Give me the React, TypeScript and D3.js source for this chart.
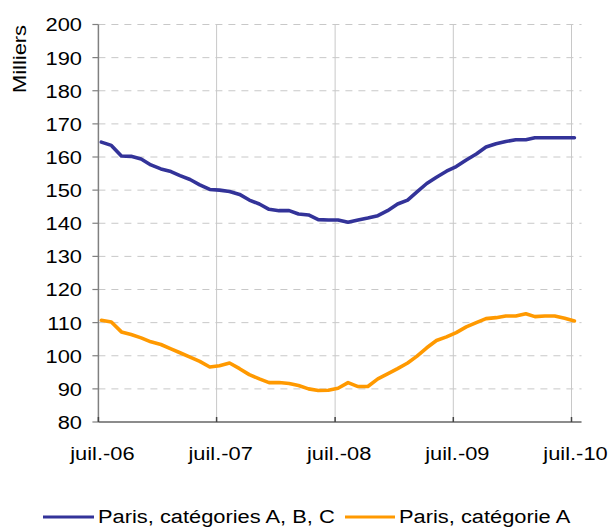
import React from "react";
import * as d3 from "d3";

const startYear = 2006;
const startMonth = 6; // July
const seriesABC = [164.5,163.5,160.3,160.2,159.4,157.6,156.4,155.6,154.4,153.2,151.6,150.2,150,149.6,148.7,147,145.8,144.2,143.8,143.8,142.8,142.5,141.1,141,141,140.3,141,141.6,142.3,143.8,145.8,147,149.4,152,153.9,155.7,157.1,159.1,160.9,163,164,164.7,165.2,165.2,165.8,165.8,165.8,165.8,165.8];
const seriesA = [110.7,110.2,107.2,106.4,105.4,104.2,103.4,102.1,100.9,99.6,98.3,96.6,97,97.8,96.1,94.3,93,91.9,91.9,91.6,91,90,89.5,89.6,90.2,91.9,90.7,90.7,93,94.5,96.1,97.8,99.8,102.4,104.6,105.7,107,108.7,110,111.2,111.5,112,112,112.7,111.8,112,112,111.3,110.5];
const yTicks = [80,90,100,110,120,130,140,150,160,170,180,190,200];
const xTickYears = [2006,2007,2008,2009,2010];
const xTickLabels = ["juil.-06","juil.-07","juil.-08","juil.-09","juil.-10"];
const seriesNames = ["Paris, catégories A, B, C", "Paris, catégorie A"];
const colors = ["#333399", "#FF9900"];

const W = 609, H = 527;
const FONT = "Liberation Sans, Arial, sans-serif";
const FS = 19;
const SX = 1.15;

export default function App() {
  const x = d3.scaleTime()
    .domain([new Date(2006, 6, 1), new Date(2010, 6, 1)])
    .range([98.4, 571.5]);
  const y = d3.scaleLinear().domain([80, 200]).range([422, 24.5]);
  const xEnd = x(new Date(2010, 7, 1));
  const x0 = x(new Date(2006, 6, 1));
  const dates = seriesABC.map((_, i) => new Date(startYear, startMonth + i, 10));
  const line = d3.line<number>().x((_, i) => x(dates[i])).y(d => y(d));
  const txt = (key: string, tx: number, ty: number, s: string, anchor: string, rot = 0) => (
    <text key={key} transform={`translate(${tx},${ty}) rotate(${rot}) scale(${SX},1)`}
      textAnchor={anchor} dominantBaseline="central" fontFamily={FONT} fontSize={FS} fill="#000">{s}</text>
  );
  return (
    <svg width={W} height={H} style={{ position: "absolute", left: 0, top: 0 }}>
      <rect width={W} height={H} fill="#fff" />
      {xTickYears.slice(1).map(yr => (
        <line key={"vg" + yr} x1={x(new Date(yr, 6, 1))} x2={x(new Date(yr, 6, 1))} y1={y(200)} y2={y(80)} stroke="#c8c8c8" strokeWidth={1} />
      ))}
      {yTicks.slice(1).map(t => (
        <line key={"hg" + t} x1={x0} x2={xEnd} y1={y(t)} y2={y(t)} stroke="#c8c8c8" strokeWidth={1} strokeDasharray="7,6" />
      ))}
      <line x1={x0} x2={x0} y1={y(200)} y2={y(80)} stroke="#808080" strokeWidth={1.5} />
      <line x1={x0} x2={xEnd} y1={y(80)} y2={y(80)} stroke="#666" strokeWidth={1.5} />
      {yTicks.map(t => (
        <line key={"yt" + t} x1={x0 - 6} x2={x0} y1={y(t)} y2={y(t)} stroke="#808080" strokeWidth={1.2} />
      ))}
      {xTickYears.map(yr => (
        <line key={"xt" + yr} x1={x(new Date(yr, 6, 1))} x2={x(new Date(yr, 6, 1))} y1={y(80)} y2={y(80) - 5} stroke="#444" strokeWidth={1.5} />
      ))}
      {yTicks.map(t => txt("yl" + t, 82, y(t), String(t), "end"))}
      {xTickYears.map((yr, i) => txt("xl" + yr, x(new Date(yr, 6, 1)) + 4, 453, xTickLabels[i], "middle"))}
      {txt("ylab", 19, 59, "Milliers", "middle", -90)}
      <path d={line(seriesABC) || ""} fill="none" stroke={colors[0]} strokeWidth={3.6} strokeLinejoin="round" strokeLinecap="round" />
      <path d={line(seriesA) || ""} fill="none" stroke={colors[1]} strokeWidth={3.6} strokeLinejoin="round" strokeLinecap="round" />
      <line x1={43} x2={94} y1={517} y2={517} stroke={colors[0]} strokeWidth={3} />
      {txt("lg0", 98, 516, seriesNames[0], "start")}
      <line x1={345} x2={395} y1={517} y2={517} stroke={colors[1]} strokeWidth={3} />
      {txt("lg1", 399, 516, seriesNames[1], "start")}
    </svg>
  );
}
